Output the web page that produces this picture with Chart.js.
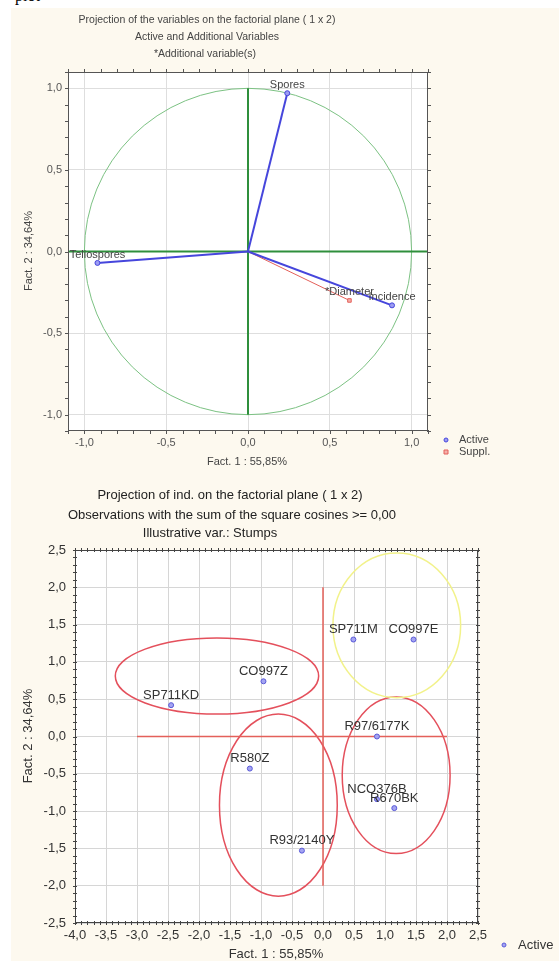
<!DOCTYPE html>
<html>
<head>
<meta charset="utf-8">
<script src="https://cdn.jsdelivr.net/npm/chart.js@4.4.1/dist/chart.umd.min.js"></script>
<style>
  html, body { margin: 0; padding: 0; background: #fff; }
  body { width: 559px; height: 961px; position: relative; overflow: hidden; }
  #paper { position: absolute; left: 11px; top: 8px; right: 0; bottom: 0; background: #fdf9ef; }
  #cap { position: absolute; left: 3px; top: -13px; font: 16px "Liberation Serif", serif; color: #000; }
  canvas { position: absolute; left: 0; }
  #varChart { top: 0; }
  #obsChart { top: 470px; }
</style>
</head>
<body>
<div id="paper"></div>
<div id="cap">– plot</div>
<canvas id="varChart" width="559" height="470"></canvas>
<canvas id="obsChart" width="559" height="491"></canvas>
<script>
// ---- variables plot (correlation circle) ----
const varNames = ["Spores", "Teliospores", "Incidence"];
const varF1 = [0.24, -0.92, 0.88];
const varF2 = [0.97, -0.07, -0.33];
const supNames = ["*Diameter"];
const supF1 = [0.62];
const supF2 = [-0.30];
const varTicks = [-1.0, -0.5, 0.0, 0.5, 1.0];
const varTickLabels = ["-1,0", "-0,5", "0,0", "0,5", "1,0"];
const varRange = [-1.1, 1.1];
const unitCircle = { cx: 0, cy: 0, rx: 1, ry: 1 };

// ---- individuals plot ----
const obsNames = ["SP711KD", "CO997Z", "R580Z", "R93/2140Y", "SP711M", "CO997E", "R97/6177K", "NCO376B", "R670BK"];
const obsF1 = [-2.45, -0.96, -1.18, -0.34, 0.49, 1.46, 0.87, 0.87, 1.15];
const obsF2 = [0.42, 0.74, -0.43, -1.53, 1.30, 1.30, 0.00, -0.84, -0.96];
const obsXTicks = [-4.0, -3.5, -3.0, -2.5, -2.0, -1.5, -1.0, -0.5, 0.0, 0.5, 1.0, 1.5, 2.0, 2.5];
const obsXTickLabels = ["-4,0", "-3,5", "-3,0", "-2,5", "-2,0", "-1,5", "-1,0", "-0,5", "0,0", "0,5", "1,0", "1,5", "2,0", "2,5"];
const obsYTicks = [-2.5, -2.0, -1.5, -1.0, -0.5, 0.0, 0.5, 1.0, 1.5, 2.0, 2.5];
const obsYTickLabels = ["-2,5", "-2,0", "-1,5", "-1,0", "-0,5", "0,0", "0,5", "1,0", "1,5", "2,0", "2,5"];
// groups drawn by hand on the figure (centre and half-axes, in factor units)
const groupCx = [-1.71, -0.72, 1.18, 1.19];
const groupCy = [0.81, -0.92, -0.52, 1.49];
const groupRx = [1.64, 0.95, 0.87, 1.03];
const groupRy = [0.51, 1.22, 1.05, 0.97];
const crossX = [-3.0, 2.0];
const crossY = [-2.0, 2.0];

const FONT = "'Liberation Sans', Arial, sans-serif";
const BLUE = "#4646dc";
const RED = "#e4605a";
const GREEN = "#2f8f3c";

// white plot area, frame with minor ticks
const framePlugin = {
  id: "frame",
  beforeDraw(chart) {
    const { ctx, chartArea: a } = chart;
    ctx.save();
    ctx.fillStyle = "#fff";
    ctx.fillRect(a.left, a.top, a.right - a.left, a.bottom - a.top);
    ctx.restore();
  },
  afterDraw(chart, args, opts) {
    const { ctx, chartArea: a, scales: { x, y } } = chart;
    ctx.save();
    ctx.strokeStyle = opts.color;
    ctx.lineWidth = 1;
    ctx.strokeRect(a.left + 0.5, a.top + 0.5, a.right - a.left - 1, a.bottom - a.top - 1);
    ctx.beginPath();
    const nx = Math.round((x.max - x.min) / opts.minor);
    for (let i = 0; i <= nx; i++) {
      const px = Math.round(x.getPixelForValue(x.min + i * opts.minor)) + 0.5;
      ctx.moveTo(px, a.bottom + opts.out); ctx.lineTo(px, a.bottom - opts.in);
      ctx.moveTo(px, a.top - opts.out); ctx.lineTo(px, a.top + opts.in);
    }
    const ny = Math.round((y.max - y.min) / opts.minor);
    for (let i = 0; i <= ny; i++) {
      const py = Math.round(y.getPixelForValue(y.min + i * opts.minor)) + 0.5;
      ctx.moveTo(a.left - opts.out, py); ctx.lineTo(a.left + opts.in, py);
      ctx.moveTo(a.right + opts.out, py); ctx.lineTo(a.right - opts.in, py);
    }
    ctx.stroke();
    ctx.restore();
  }
};

// ellipses / circle in data units
const ellipsePlugin = {
  id: "ellipses",
  beforeDatasetsDraw(chart, args, opts) {
    const { ctx, scales: { x, y } } = chart;
    ctx.save();
    opts.shapes.forEach(s => {
      const px = x.getPixelForValue(s.cx);
      const py = y.getPixelForValue(s.cy);
      const rx = Math.abs(x.getPixelForValue(s.cx + s.rx) - px);
      const ry = Math.abs(y.getPixelForValue(s.cy + s.ry) - py);
      ctx.beginPath();
      ctx.ellipse(px, py, rx, ry, 0, 0, Math.PI * 2);
      ctx.strokeStyle = s.color;
      ctx.lineWidth = s.width;
      ctx.stroke();
    });
    ctx.restore();
  }
};

// names written next to the points
const pointLabelPlugin = {
  id: "pointLabels",
  afterDatasetsDraw(chart, args, opts) {
    const { ctx } = chart;
    ctx.save();
    ctx.font = opts.font;
    ctx.fillStyle = opts.color;
    ctx.textAlign = "center";
    ctx.textBaseline = "middle";
    chart.data.datasets.forEach((ds, di) => {
      if (!ds.pointLabels) return;
      chart.getDatasetMeta(di).data.forEach((el, i) => {
        const t = ds.pointLabels[i];
        if (t) ctx.fillText(t, el.x, el.y - opts.offset);
      });
    });
    ctx.restore();
  }
};

// titles, axis titles and legend
const textPlugin = {
  id: "texts",
  afterDraw(chart, args, opts) {
    const { ctx } = chart;
    ctx.save();
    ctx.textBaseline = "middle";
    opts.items.forEach(t => {
      ctx.save();
      ctx.font = t.font;
      ctx.fillStyle = t.color;
      ctx.textAlign = t.align || "center";
      ctx.translate(t.x, t.y);
      if (t.rotate) ctx.rotate(t.rotate);
      ctx.fillText(t.text, 0, 0);
      ctx.restore();
    });
    (opts.markers || []).forEach(m => {
      ctx.beginPath();
      if (m.style === "rect") ctx.rect(m.x - m.r, m.y - m.r, m.r * 2, m.r * 2);
      else ctx.arc(m.x, m.y, m.r, 0, Math.PI * 2);
      ctx.fillStyle = m.fill;
      ctx.fill();
      ctx.strokeStyle = m.stroke;
      ctx.lineWidth = 1;
      ctx.stroke();
    });
    ctx.restore();
  }
};

function fixedTicks(values) {
  return scale => { scale.ticks = values.map(v => ({ value: v })); };
}

// ---------- top chart ----------
const vectorSets = varNames.map((name, i) => ({
  label: name,
  data: [{ x: 0, y: 0 }, { x: varF1[i], y: varF2[i] }],
  showLine: true,
  borderColor: BLUE,
  borderWidth: 2,
  pointRadius: [0, 2.5],
  pointBackgroundColor: "#9c9cf2",
  pointBorderColor: BLUE,
  pointBorderWidth: 1,
  pointLabels: ["", name]
}));
const supSets = supNames.map((name, i) => ({
  label: name,
  data: [{ x: 0, y: 0 }, { x: supF1[i], y: supF2[i] }],
  showLine: true,
  borderColor: RED,
  borderWidth: 1,
  pointStyle: "rect",
  pointRadius: [0, 2.5],
  pointBackgroundColor: "#f4b0aa",
  pointBorderColor: RED,
  pointBorderWidth: 1,
  pointLabels: ["", name]
}));
const varAxisSets = [
  { data: [{ x: 0, y: -1 }, { x: 0, y: 1 }], showLine: true, borderColor: GREEN, borderWidth: 2, pointRadius: 0 },
  { data: [{ x: varRange[0], y: 0 }, { x: varRange[1], y: 0 }], showLine: true, borderColor: GREEN, borderWidth: 2, pointRadius: 0 }
];

const topTick = { color: "#555", font: { family: FONT, size: 11 } };

new Chart(document.getElementById("varChart"), {
  type: "scatter",
  data: { datasets: [...vectorSets, ...supSets, ...varAxisSets] },
  options: {
    responsive: false,
    animation: false,
    layout: { padding: { left: 0, top: 72, right: 131, bottom: 9 } },
    scales: {
      x: {
        type: "linear", min: varRange[0], max: varRange[1],
        afterBuildTicks: fixedTicks(varTicks),
        afterFit: s => { s.height = 30; },
        grid: { color: "#dedede", drawTicks: false },
        border: { display: false },
        ticks: { ...topTick, padding: 5, maxRotation: 0, callback: (v, i) => varTickLabels[i] }
      },
      y: {
        type: "linear", min: varRange[0], max: varRange[1],
        afterBuildTicks: fixedTicks(varTicks),
        afterFit: s => { s.width = 68; },
        grid: { color: "#dedede", drawTicks: false },
        border: { display: false },
        ticks: { ...topTick, padding: 6, callback: (v, i) => varTickLabels[i] }
      }
    },
    plugins: {
      legend: { display: false },
      tooltip: { enabled: false },
      frame: { color: "#555", minor: 0.1, out: 3, in: 1 },
      ellipses: { shapes: [{ ...unitCircle, color: "#7cc283", width: 1 }] },
      pointLabels: { font: "11px " + FONT, color: "#444", offset: 8 },
      texts: {
        items: [
          { text: "Projection of the variables on the factorial plane ( 1 x 2)", x: 207, y: 20, font: "10.5px " + FONT, color: "#444" },
          { text: "Active and Additional Variables", x: 207, y: 37, font: "10.5px " + FONT, color: "#444" },
          { text: "*Additional variable(s)", x: 205, y: 54, font: "10.5px " + FONT, color: "#444" },
          { text: "Fact. 1 : 55,85%", x: 247, y: 462, font: "11px " + FONT, color: "#444" },
          { text: "Fact. 2 : 34,64%", x: 29, y: 251, font: "11px " + FONT, color: "#444", rotate: -Math.PI / 2 },
          { text: "Active", x: 459, y: 440, font: "11px " + FONT, color: "#444", align: "left" },
          { text: "Suppl.", x: 459, y: 452, font: "11px " + FONT, color: "#444", align: "left" }
        ],
        markers: [
          { x: 446, y: 440, r: 2, fill: "#9c9cf2", stroke: BLUE },
          { x: 446, y: 452, r: 2, style: "rect", fill: "#f4b0aa", stroke: RED }
        ]
      }
    }
  },
  plugins: [framePlugin, ellipsePlugin, pointLabelPlugin, textPlugin]
});

// ---------- bottom chart ----------
const obsSet = {
  label: "Active",
  data: obsNames.map((n, i) => ({ x: obsF1[i], y: obsF2[i] })),
  showLine: false,
  pointRadius: 2.5,
  pointBackgroundColor: "#a4a4f2",
  pointBorderColor: "#5a5ad8",
  pointBorderWidth: 1,
  pointLabels: obsNames
};
const crossSets = [
  { data: [{ x: 0, y: crossY[0] }, { x: 0, y: crossY[1] }], showLine: true, borderColor: RED, borderWidth: 1.5, pointRadius: 0 },
  { data: [{ x: crossX[0], y: 0 }, { x: crossX[1], y: 0 }], showLine: true, borderColor: RED, borderWidth: 1.5, pointRadius: 0 }
];
const groupColors = ["#e4505c", "#e4505c", "#e4505c", "#f2f28a"];
const groupShapes = groupCx.map((cx, i) => ({ cx, cy: groupCy[i], rx: groupRx[i], ry: groupRy[i], color: groupColors[i], width: 1.5 }));

const botTick = { color: "#333", font: { family: FONT, size: 13 } };

new Chart(document.getElementById("obsChart"), {
  type: "scatter",
  data: { datasets: [obsSet, ...crossSets] },
  options: {
    responsive: false,
    animation: false,
    layout: { padding: { left: 0, top: 80, right: 81, bottom: 8 } },
    scales: {
      x: {
        type: "linear", min: obsXTicks[0], max: obsXTicks[obsXTicks.length - 1],
        afterBuildTicks: fixedTicks(obsXTicks),
        afterFit: s => { s.height = 30; },
        grid: { color: "#d6d6d6", drawTicks: false },
        border: { display: false },
        ticks: { ...botTick, padding: 5, maxRotation: 0, autoSkip: false, callback: (v, i) => obsXTickLabels[i] }
      },
      y: {
        type: "linear", min: obsYTicks[0], max: obsYTicks[obsYTicks.length - 1],
        afterBuildTicks: fixedTicks(obsYTicks),
        afterFit: s => { s.width = 75; },
        grid: { color: "#d6d6d6", drawTicks: false },
        border: { display: false },
        ticks: { ...botTick, padding: 9, autoSkip: false, callback: (v, i) => obsYTickLabels[i] }
      }
    },
    plugins: {
      legend: { display: false },
      tooltip: { enabled: false },
      frame: { color: "#444", minor: 0.1, out: 2, in: 2 },
      ellipses: { shapes: groupShapes },
      pointLabels: { font: "13px " + FONT, color: "#333", offset: 10 },
      texts: {
        items: [
          { text: "Projection of ind. on the factorial plane ( 1 x 2)", x: 230, y: 25, font: "13px " + FONT, color: "#222" },
          { text: "Observations with the sum of the square cosines >= 0,00", x: 232, y: 45, font: "13px " + FONT, color: "#222" },
          { text: "Illustrative var.: Stumps", x: 210, y: 63, font: "13px " + FONT, color: "#222" },
          { text: "Fact. 1 : 55,85%", x: 276, y: 484, font: "13px " + FONT, color: "#333" },
          { text: "Fact. 2 : 34,64%", x: 28, y: 266, font: "13px " + FONT, color: "#333", rotate: -Math.PI / 2 },
          { text: "Active", x: 518, y: 475, font: "13px " + FONT, color: "#333", align: "left" }
        ],
        markers: [
          { x: 504, y: 475, r: 2, fill: "#a4a4f2", stroke: "#5a5ad8" }
        ]
      }
    }
  },
  plugins: [framePlugin, ellipsePlugin, pointLabelPlugin, textPlugin]
});
</script>
</body>
</html>
